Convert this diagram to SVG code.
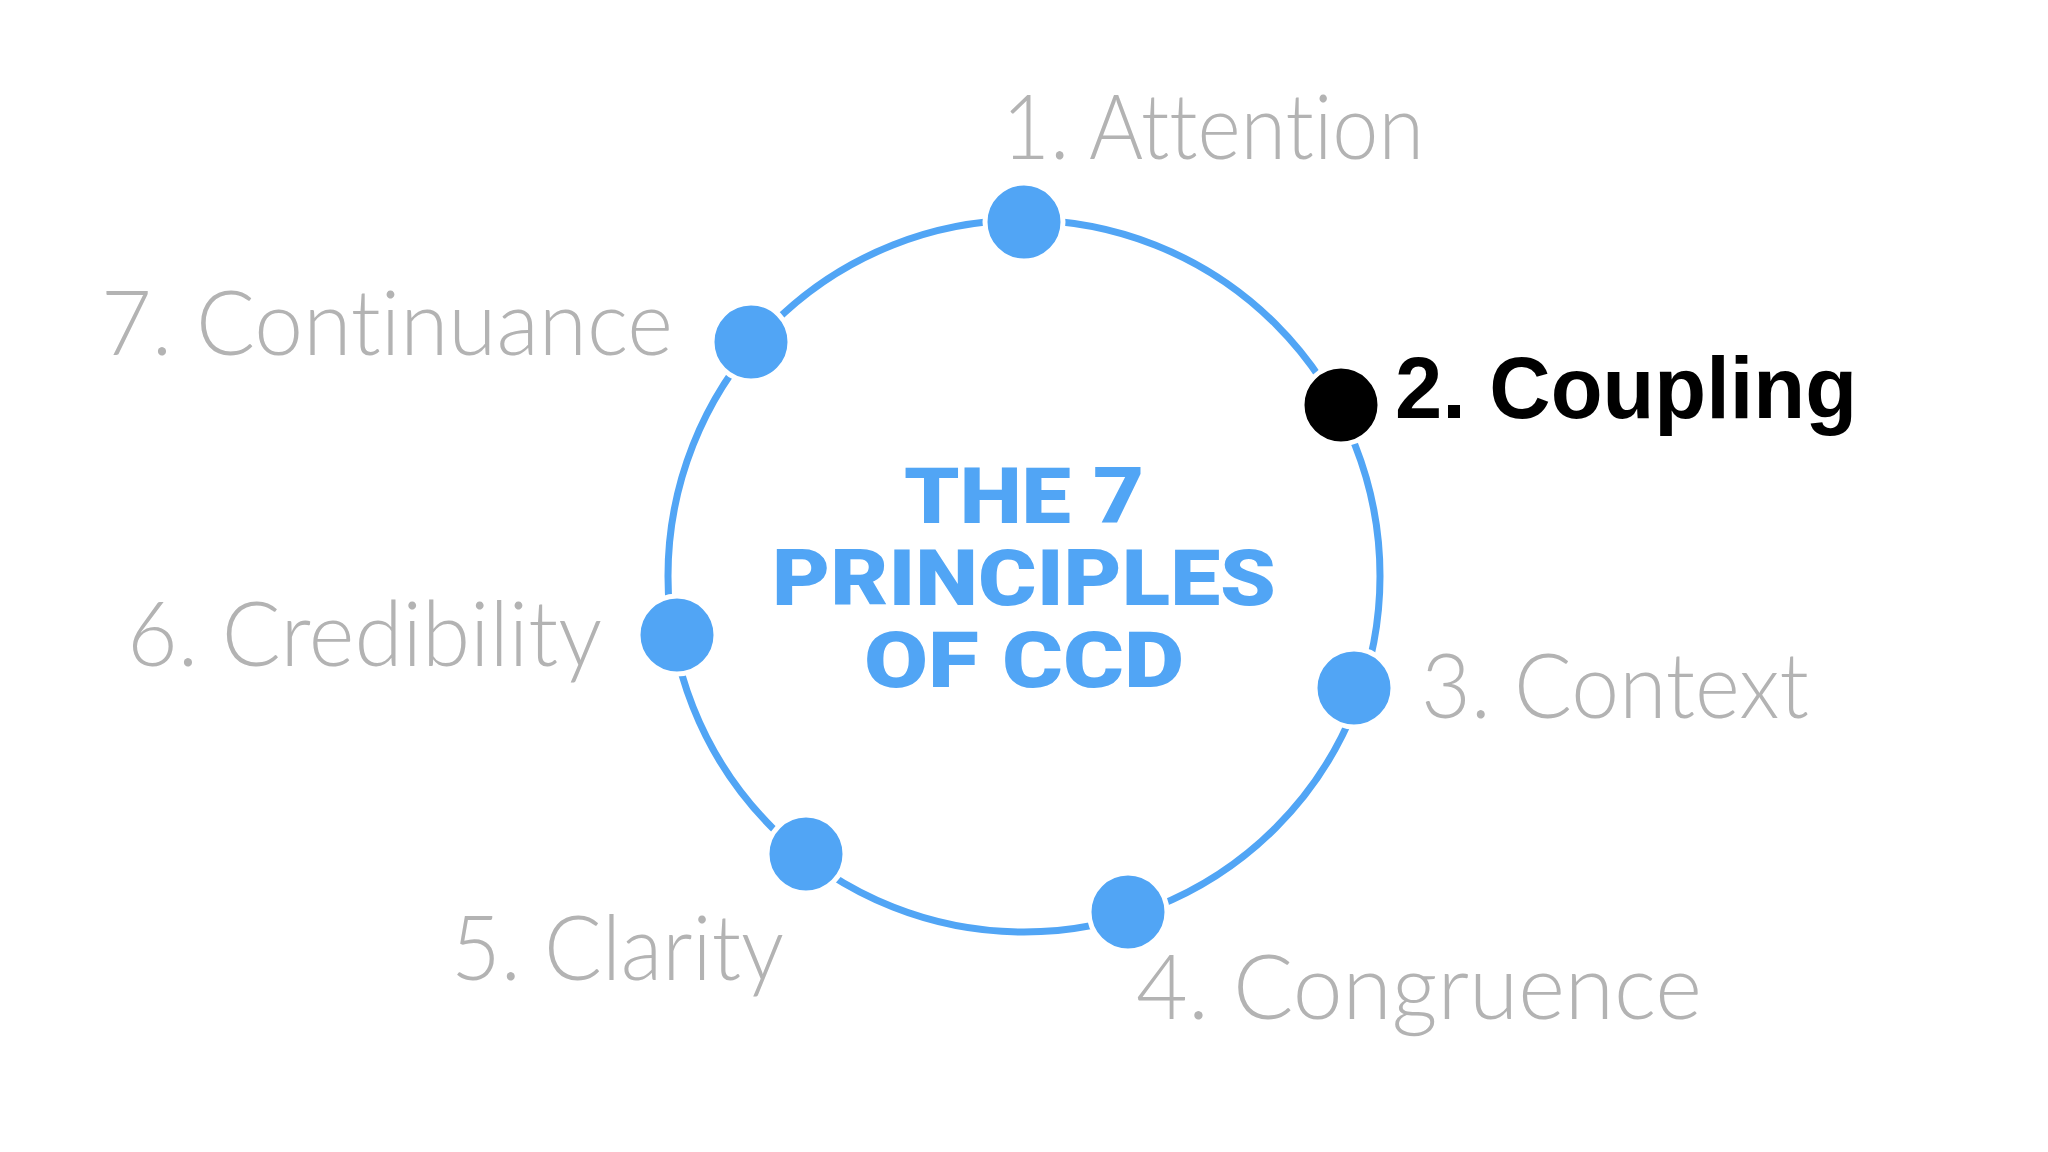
<svg xmlns="http://www.w3.org/2000/svg" width="2048" height="1152" viewBox="0 0 2048 1152">
<style>
.lbl{font-family:Lato,"Open Sans","Liberation Sans",sans-serif;font-weight:300;font-size:90px;fill:#b3b3b3;font-variant-ligatures:none}
.dot{fill:#51a5f5;stroke:#fff;stroke-width:5}
.title{font-family:Roboto,"Liberation Sans",sans-serif;font-weight:900;font-size:78px;fill:#51a5f5;text-anchor:middle}
</style>
<rect width="2048" height="1152" fill="#fff"/>
<g id="connectors"><circle cx="1024" cy="576" r="356" fill="none" stroke="#51a5f5" stroke-width="7"/></g>
<g id="center"><text class="title" x="1024" y="523" textLength="240" lengthAdjust="spacingAndGlyphs">THE 7</text><text class="title" x="1024" y="605" textLength="504" lengthAdjust="spacingAndGlyphs">PRINCIPLES</text><text class="title" x="1024" y="687" textLength="320" lengthAdjust="spacingAndGlyphs">OF CCD</text></g>
<g id="n1"><circle class="dot" cx="1024" cy="222" r="39"/><text class="lbl" x="1002" y="159" textLength="422" lengthAdjust="spacingAndGlyphs">1. Attention</text></g>
<g id="n2"><circle cx="1341" cy="405" r="39" fill="#000" stroke="#fff" stroke-width="5"/><text x="1395" y="418" textLength="462" lengthAdjust="spacingAndGlyphs" style="font-family:'Liberation Sans',sans-serif;font-weight:700;font-size:88px;fill:#000">2. Coupling</text></g>
<g id="n3"><circle class="dot" cx="1354" cy="688" r="39"/><text class="lbl" x="1421" y="718" textLength="388" lengthAdjust="spacingAndGlyphs">3. Context</text></g>
<g id="n4"><circle class="dot" cx="1128" cy="912" r="39"/><text class="lbl" x="1136" y="1019" textLength="566" lengthAdjust="spacingAndGlyphs">4. Congruence</text></g>
<g id="n5"><circle class="dot" cx="806" cy="854" r="39"/><text class="lbl" x="451" y="980" textLength="333" lengthAdjust="spacingAndGlyphs">5. Clarity</text></g>
<g id="n6"><circle class="dot" cx="677" cy="635" r="39"/><text class="lbl" x="127" y="666" textLength="475" lengthAdjust="spacingAndGlyphs">6. Credibility</text></g>
<g id="n7"><circle class="dot" cx="751" cy="342" r="39"/><text class="lbl" x="101" y="355" textLength="572" lengthAdjust="spacingAndGlyphs">7. Continuance</text></g>
</svg>
